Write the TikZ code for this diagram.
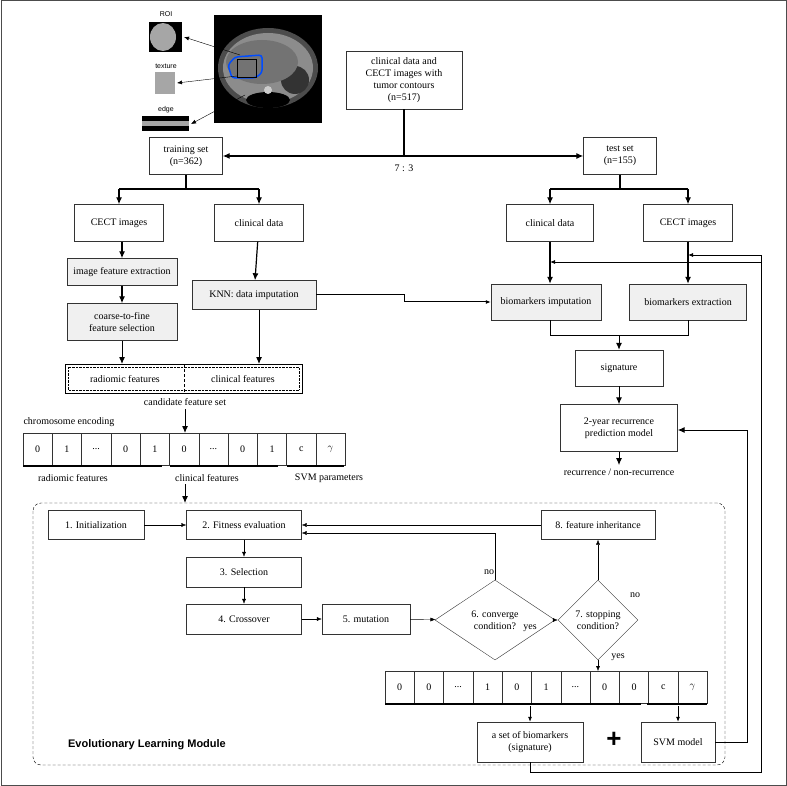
\documentclass[tikz,border=0pt]{standalone}
\usepackage{fontspec}
\setmainfont{Liberation Serif}
\newfontfamily\sansf{Liberation Sans}
\usetikzlibrary{arrows.meta,positioning,shapes.geometric}
\tikzset{
    % arrow styles
    big/.style={-{Latex[length=7pt,width=6pt]},line width=1.2pt},
    sml/.style={-{Latex[length=5pt,width=4pt]},thin},
    % box styles
    box/.style={rectangle,draw=black!80,thin,align=center,inner sep=2pt},
    gbox/.style={box,fill=black!6},
}
\newcommand{\dts}{...}
\begin{document}
\begin{tikzpicture}[x=1pt,y=-1pt,font=\fontsize{10}{12}\selectfont]
\useasboundingbox (0,0) rectangle (787,786);
\draw[black!70,line width=1pt] (1,1) rectangle (786,785);

% CT image
\fill[black] (214,15) rectangle (322,123);
\fill[black!70] (268,68) ellipse (50 and 40);
\fill[black!45] (268,68) ellipse (45 and 35);
\fill[black!80] (295,80) ellipse (14 and 14);
\fill[black!55] (262,62) ellipse (36 and 22);
\fill[black] (268,100) ellipse (22 and 8);
\fill[white!80!black] (268,90) circle (4);
\draw[blue!70!cyan,line width=1.5pt,rounded corners=3pt] (235,57) -- (262,55) -- (262,73) -- (255,78) -- (232,78) -- (228,65) -- cycle;
\draw[black,thick] (237,59) rectangle (256,77);
\node (ct) at (268,69) {};
% extracted images
\fill[black] (149,22) rectangle (182,52);
\fill[black!35] (163,37) ellipse (13 and 14);
\node[font=\sansf\fontsize{7}{8}\selectfont] at (166,14) {ROI};
\fill[black!35] (155,72) rectangle (175,94);
\node[font=\sansf\fontsize{7}{8}\selectfont] at (166,66) {texture};
\fill[black] (142,116) rectangle (189,131);
\fill[black!35] (142,121) rectangle (189,126);
\node[font=\sansf\fontsize{7}{8}\selectfont] at (166,110) {edge};
\draw[sml] (240,55) -- (184,37);
\draw[sml] (237,76) -- (177,83);
\draw[sml] (245,95) -- (191,124);

% upper flow
\node[box,minimum width=116,minimum height=58] (all) at (404,80) {clinical data and\\CECT images with\\tumor contours\\(n=517)};
\node[box,minimum width=73,minimum height=37] (train) at (186,156) {training set\\(n=362)};
\node[box,minimum width=73,minimum height=37] (test) at (620,156) {test set\\(n=155)};
\coordinate (split) at (404,156);
\draw[line width=1.2pt] (all) -- (split);
\draw[big] (split) -- (train);
\draw[big] (split) -- (test);
\node at (404,168) {7 : 3};

\node[box,minimum width=89,minimum height=37] (cect) at (119,223) {CECT images};
\node[box,minimum width=89,minimum height=37] (clin) at (259,223) {clinical data};
\node[box,minimum width=87,minimum height=37] (tclin) at (550,223) {clinical data};
\node[box,minimum width=89,minimum height=37] (tcect) at (688,223) {CECT images};
\draw[line width=1.2pt] (train.south) -- (186,189) -- (119,189);
\draw[line width=1.2pt] (186,189) -- (259,189);
\draw[big] (119,189) -- (cect);
\draw[big] (259,189) -- (clin);
\draw[line width=1.2pt] (test.south) -- (620,189) -- (550,189);
\draw[line width=1.2pt] (620,189) -- (688,189);
\draw[big] (550,189) -- (tclin);
\draw[big] (688,189) -- (tcect);

\node[gbox,minimum width=110,minimum height=27] (ife) at (122,272) {image feature extraction};
\node[gbox,minimum width=110,minimum height=37] (ctf) at (122,322) {coarse-to-fine\\feature selection};
\node[gbox,minimum width=124,minimum height=29] (knn) at (254,295) {KNN: data imputation};
\draw[big] (cect.south -| ife) -- (ife);
\draw[big] (ife) -- (ctf);
\draw[big] (clin) -- (knn);

\node[gbox,minimum width=110,minimum height=36] (bimp) at (546,302) {biomarkers imputation};
\node[gbox,minimum width=117,minimum height=36] (bext) at (688,302) {biomarkers extraction};
\draw[big] (tclin) -- (tclin |- bimp.north);
\draw[big] (tcect) -- (bext);
\draw[sml,line width=1pt] (knn) -- (404,295) -- (404,302) -- (bimp);

\node[box,minimum width=88,minimum height=36] (sig) at (619,368) {signature};
\node[box,minimum width=117,minimum height=47] (pred) at (619,428) {2-year recurrence\\prediction model};
\node (rec) at (619,472) {recurrence / non-recurrence};
\draw[thick] (bimp.south -| tclin) -- (550,335) -- (688,335) -- (bext.south);
\draw[big,line width=1pt] (619,335) -- (sig);
\draw[big,line width=1pt] (sig) -- (pred);
\draw[big,line width=1pt] (pred) -- (rec);

% candidate feature set
\draw[thin] (65,364) rectangle (302,393);
\draw[densely dotted] (68,367) rectangle (299,390);
\draw[densely dashed] (184,364) -- (184,393);
\node at (125,379) {radiomic features};
\node at (243,379) {clinical features};
\node (cand) at (185,402) {candidate feature set};
\draw[big,line width=1pt] (ctf) -- (ctf |- 0,364);
\draw[big,line width=1pt] (knn.south -| clin) -- (259,364);

% chromosome encoding
\node[anchor=west] at (20,422) {chromosome encoding};
\foreach \v [count=\i from 0] in {0,1,\dts,0,1,0,\dts,0,1,c,$\gamma$}
  \node[box,minimum width=29.3,minimum height=32,inner sep=0pt] (c\i) at (37.6+29.3*\i,449) {\v};
\draw[big,line width=1pt] (cand) -- (185,433);
\draw[line width=2pt] (23,466) -- (162,466);
\draw[line width=2pt] (170,466) -- (278,466);
\draw[line width=2pt] (287,466) -- (344,466);
\node at (73,478) {radiomic features};
\node at (207,478) {clinical features};
\node at (329,478) {SVM parameters};
\draw[big,line width=1pt] (185,484) -- (185,503);

% evolutionary learning module
\draw[densely dashed,rounded corners=8pt] (33,503) rectangle (725,765);
\node[font=\sansf\bfseries\fontsize{11}{13}\selectfont] at (147,745) {Evolutionary Learning Module};
\node[box,minimum width=96,minimum height=29] (init) at (96,525) {1. Initialization};
\node[box,minimum width=115,minimum height=29] (fit) at (244,525) {2. Fitness evaluation};
\node[box,minimum width=115,minimum height=30] (sel) at (244,572) {3. Selection};
\node[box,minimum width=115,minimum height=30] (cro) at (244,619) {4. Crossover};
\node[box,minimum width=88,minimum height=30] (mut) at (366,619) {5. mutation};
\node[box,diamond,minimum width=120,minimum height=80,inner sep=0pt] (conv) at (495,620) {6. converge\\condition?};
\node[box,diamond,minimum width=80,minimum height=80,inner sep=0pt] (stop) at (598,620) {7. stopping\\condition?};
\node[box,minimum width=114,minimum height=29] (inh) at (598,525) {8. feature inheritance};
\draw[sml] (init) -- (fit);
\draw[sml] (fit) -- (sel);
\draw[sml] (sel) -- (cro);
\draw[sml] (cro) -- (mut);
\draw[sml] (mut) -- (conv);
\draw[sml] (conv) -- (stop);
\draw[sml] (stop) -- (inh);
\draw[sml] (inh) -- (fit.east |- inh);
\draw[sml] (conv.north) -- (495,533) -- (fit.east |- 0,533);
\node at (489,572) {no};
\node at (530,628) {yes};
\node at (635,595) {no};
\node at (618,657) {yes};

\foreach \v [count=\i from 0] in {0,0,\dts,1,0,1,\dts,0,0,c,$\gamma$}
  \node[box,minimum width=29.3,minimum height=32,inner sep=0pt] (d\i) at (399.6+29.3*\i,687) {\v};
\draw[sml] (stop.south) -- (598,671);
\draw[line width=2pt] (385,704) -- (641,704);
\draw[line width=2pt] (647,704) -- (707,704);
\node[box,minimum width=106,minimum height=40] (bio) at (530,742) {a set of biomarkers\\(signature)};
\node[box,minimum width=74,minimum height=40] (svm) at (678,742) {SVM model};
\node[font=\sansf\bfseries\fontsize{26}{26}\selectfont] at (614,740) {+};
\draw[sml,line width=0.8pt] (530,706) -- (bio);
\draw[sml,line width=0.8pt] (678,706) -- (svm);

% feedback lines
\draw[big,line width=1pt] (svm) -- (747,742) -- (747,430) -- (pred.east |- 0,430);
\draw[thick] (bio) -- (530,772) -- (761,772) -- (761,255);
\draw[sml,thick] (761,255) -- (688,255);
\draw[sml,thick] (761,262) -- (550,262);
\end{tikzpicture}
\end{document}
